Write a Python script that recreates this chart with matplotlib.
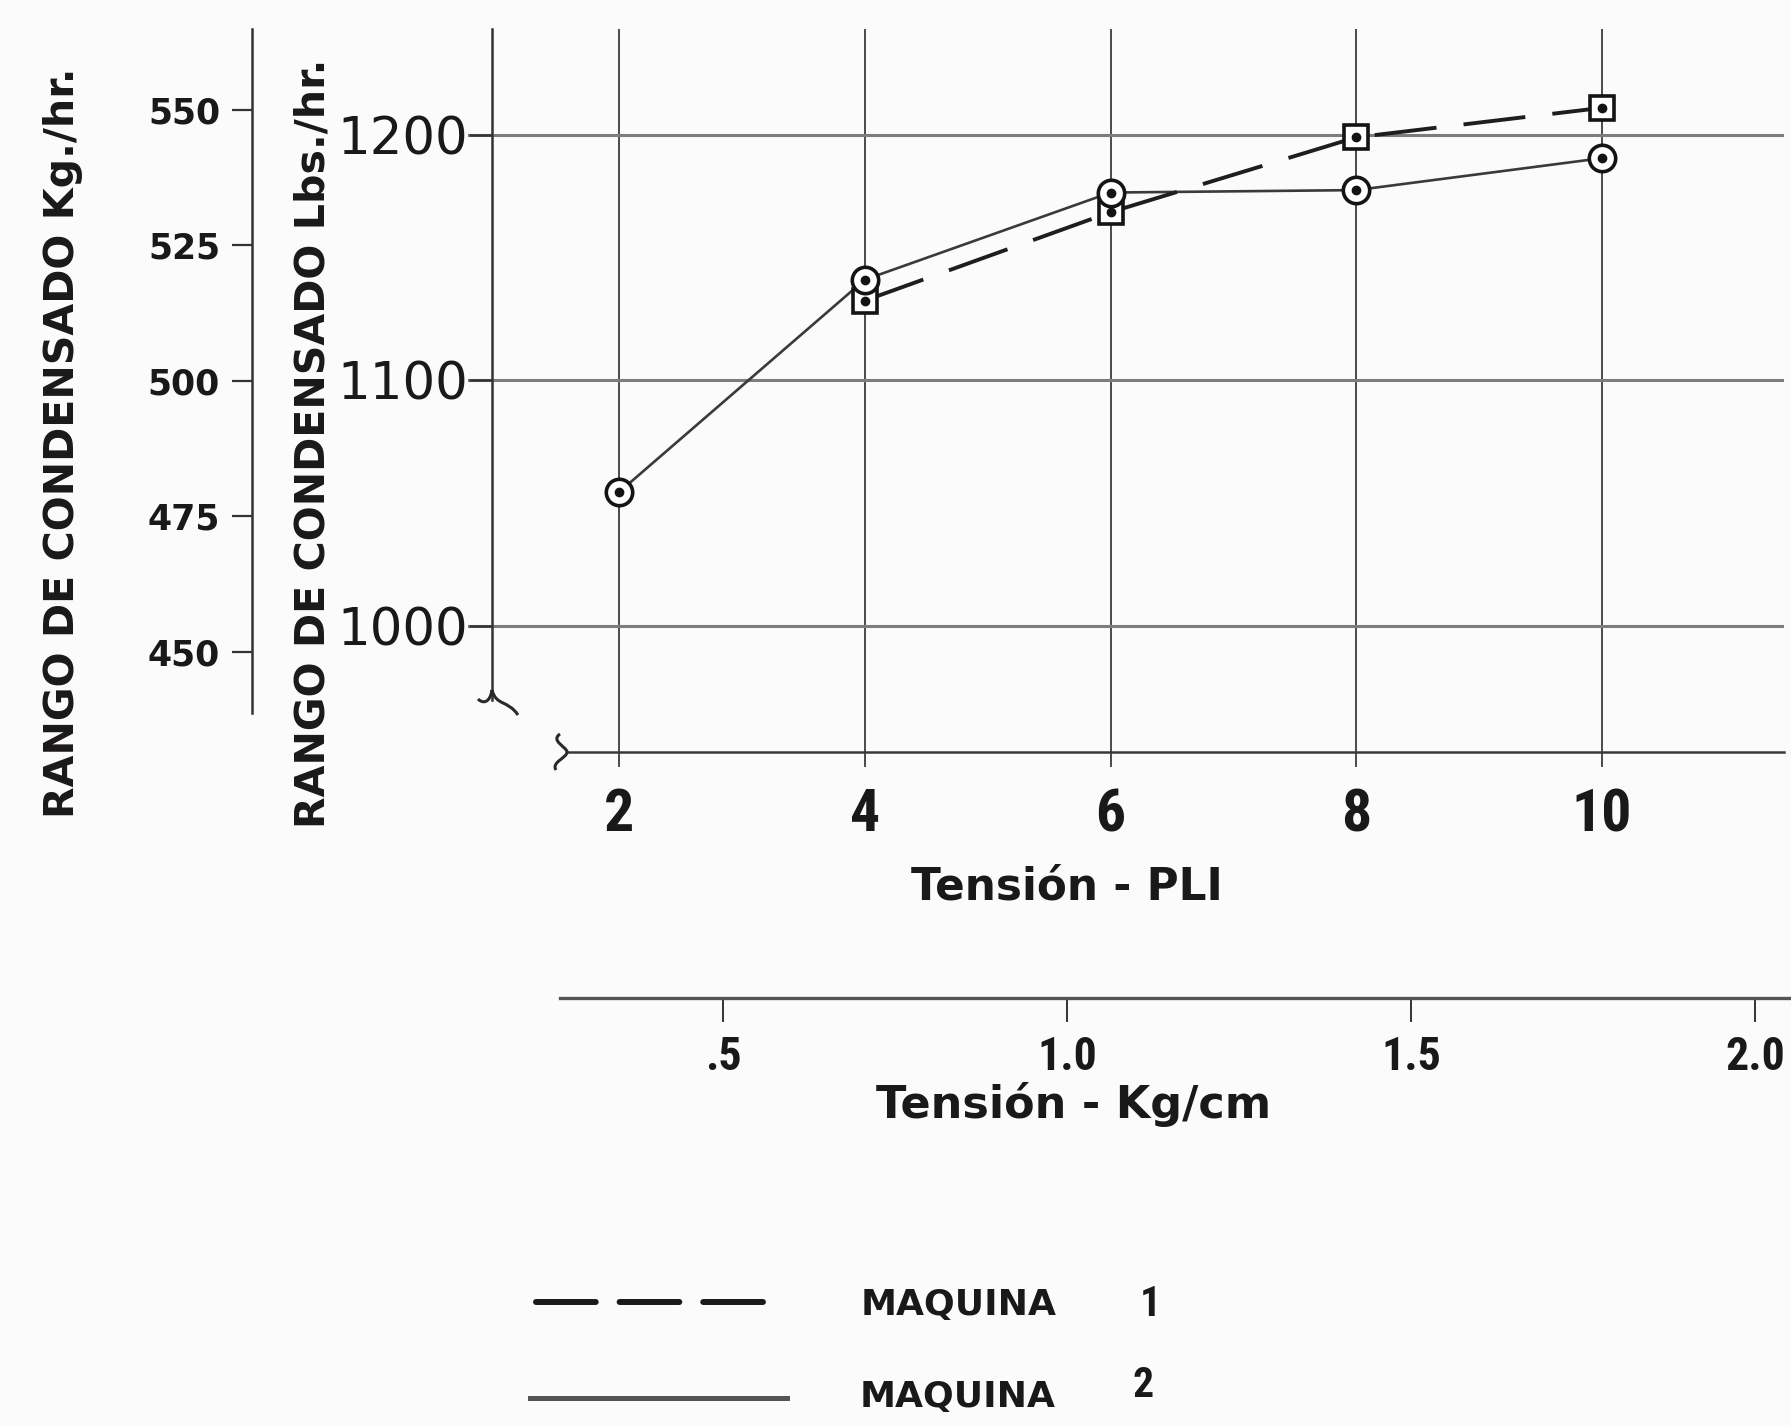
import matplotlib
matplotlib.use("Agg")
import matplotlib.pyplot as plt
from matplotlib.lines import Line2D
from matplotlib.path import Path
from matplotlib.patches import PathPatch
from matplotlib import font_manager

# ---- data -----------------------------------------------------------------
tension_pli = [2, 4, 6, 8, 10]
maquina2_lbs = [1054.5, 1141.0, 1176.5, 1177.5, 1190.5]

tension_pli_m1 = [4, 6, 8, 10]
maquina1_lbs = [1132.5, 1168.5, 1199.0, 1211.0]

lbs_ticks = [1000, 1100, 1200]
kg_ticks = [450, 475, 500, 525, 550]
pli_ticks = [2, 4, 6, 8, 10]
kgcm_ticks = [0.5, 1.0, 1.5, 2.0]
kgcm_labels = [".5", "1.0", "1.5", "2.0"]

PLI_TO_KGCM = 0.4536 / 2.54   # lb/in -> kg/cm

# ---- figure / layout helpers ----------------------------------------------
W, H, DPI = 1791, 1425, 100
fig = plt.figure(figsize=(W / DPI, H / DPI), dpi=DPI, facecolor="#fbfbfb")


def pick_narrow():
    fonts = font_manager.fontManager.ttflist
    for wanted in ("Liberation Sans Narrow", "Roboto Condensed", "Open Sans Condensed"):
        if any(f.name == wanted for f in fonts):
            return {"family": wanted}, True
    for f in fonts:
        if f.name == "DejaVu Sans" and str(f.stretch) in ("condensed", "semi-condensed"):
            return {"family": "DejaVu Sans", "stretch": "condensed"}, True
    return {"family": "DejaVu Sans"}, False


NARROW, HAS_NARROW = pick_narrow()
BOLD = "DejaVu Sans"
INK = "#1b1818"


def rect(left, top, right, bottom):
    return [left / W, 1 - bottom / H, (right - left) / W, (bottom - top) / H]


def fx(x):
    return x / W


def fy(y):
    return 1 - y / H


def narrow_style(label, size, weight="normal"):
    label.set_fontfamily(NARROW["family"])
    if "stretch" in NARROW:
        label.set_fontstretch(NARROW["stretch"])
    label.set_fontsize(size)
    label.set_fontweight(weight)


# ---- main plot: condensate rate (lbs/hr) vs tension (PLI) ------------------
ax = fig.add_axes(rect(468, 29, 1784, 752))
ax.patch.set_visible(False)
ax.set_xlim(0.7711, 11.481)
ax.set_ylim(948.7, 1243.1)
for s in ("top", "right"):
    ax.spines[s].set_visible(False)

ax.set_xticks(pli_ticks)
ax.set_xticklabels([str(t) for t in pli_ticks])
ax.set_yticks(lbs_ticks)
ax.set_yticklabels([str(t) for t in lbs_ticks])
ax.set_axisbelow(True)
ax.xaxis.grid(True, color="#3c3c3c", lw=1.3)
ax.yaxis.grid(True, color="#7d7d7d", lw=2.2)

ax.spines["bottom"].set_color("#3a3a3a")
ax.spines["bottom"].set_linewidth(1.8)
ax.spines["bottom"].set_bounds(1.577, 11.481)
ax.tick_params(axis="x", direction="out", length=10.8, width=1.3, color="#3c3c3c",
               pad=14.4, labelcolor=INK)
for lab in ax.get_xticklabels():
    narrow_style(lab, 43 if HAS_NARROW else 38, "bold")

ax.spines["left"].set_position(("data", 0.966))
ax.spines["left"].set_bounds(969.9, 1243.1)
ax.spines["left"].set_color("#333333")
ax.spines["left"].set_linewidth(1.8)
ax.tick_params(axis="y", direction="out", length=16.5, width=1.8, color="#333333",
               pad=0.5, labelsize=37, labelcolor=INK)
for lab in ax.get_yticklabels():
    lab.set_fontfamily("DejaVu Sans")

# Maquina 2: solid line with ringed dots
ax.plot(tension_pli, maquina2_lbs, color="#3a3a3a", lw=1.9, zorder=3)
ax.plot(tension_pli, maquina2_lbs, ls="none", marker="o", ms=19, mfc="white",
        mec="#141414", mew=2.6, zorder=6)
ax.plot(tension_pli, maquina2_lbs, ls="none", marker="o", ms=6, color="#141414", zorder=7)

# Maquina 1: dashed line with boxed dots
ax.plot(tension_pli_m1, maquina1_lbs, color="#1e1e1e", lw=2.8, ls=(0, (16, 7)), zorder=3)
ax.plot(tension_pli_m1, maquina1_lbs, ls="none", marker="s", ms=17, mfc="white",
        mec="#141414", mew=2.6, zorder=4)
ax.plot(tension_pli_m1, maquina1_lbs, ls="none", marker="o", ms=6, color="#141414", zorder=5)

# ---- kg/hr scale on the far left --------------------------------------------
axk = fig.add_axes(rect(252, 29, 253, 752))
axk.patch.set_visible(False)
axk.set_ylim(431.55, 564.94)
for s in ("top", "right", "bottom"):
    axk.spines[s].set_visible(False)
axk.spines["left"].set_bounds(438.7, 564.94)
axk.spines["left"].set_color("#333333")
axk.spines["left"].set_linewidth(1.8)
axk.set_xticks([])
axk.set_yticks(kg_ticks)
axk.set_yticklabels([str(t) for t in kg_ticks])
axk.tick_params(axis="y", direction="out", length=14.4, width=1.6, color="#333333",
                pad=8.6, labelsize=25, labelcolor=INK)
for lab in axk.get_yticklabels():
    lab.set_fontweight("bold")

# ---- kg/cm tension scale below ------------------------------------------------
ax2 = fig.add_axes(rect(474, 997, 1790, 998))
ax2.patch.set_visible(False)
ax2.set_xlim(0.7711 * PLI_TO_KGCM, 11.481 * PLI_TO_KGCM)
for s in ("top", "right", "left"):
    ax2.spines[s].set_visible(False)
ax2.spines["bottom"].set_bounds(0.2627, 11.481 * PLI_TO_KGCM)
ax2.spines["bottom"].set_color("#555555")
ax2.spines["bottom"].set_linewidth(2.4)
ax2.set_yticks([])
ax2.set_xticks(kgcm_ticks)
ax2.set_xticklabels(kgcm_labels)
ax2.tick_params(axis="x", direction="out", length=17.3, width=1.4, color="#333333",
                pad=9.0, labelcolor=INK)
for lab in ax2.get_xticklabels():
    narrow_style(lab, 33 if HAS_NARROW else 26, "bold")

# ---- axis titles --------------------------------------------------------------
fig.text(fx(63), fy(443), "RANGO DE CONDENSADO Kg./hr.", rotation=90, ha="center",
         va="center", fontsize=29.6, fontweight="bold", color=INK, family=BOLD)
fig.text(fx(313), fy(443), "RANGO DE CONDENSADO Lbs./hr.", rotation=90, ha="center",
         va="center", fontsize=29.6, fontweight="bold", color=INK, family=BOLD)
fig.text(fx(1067), fy(900), "Tensión - PLI", ha="center", va="baseline",
         fontsize=31.5, fontweight="bold", color=INK, family=BOLD)
fig.text(fx(1074), fy(1118), "Tensión - Kg/cm", ha="center", va="baseline",
         fontsize=32, fontweight="bold", color=INK, family=BOLD)

# ---- axis break marks ------------------------------------------------------------
def squiggle(segments, lw=2.2):
    verts, codes = [], []
    for seg in segments:
        verts.append((fx(seg[0][0]), fy(seg[0][1])))
        codes.append(Path.MOVETO)
        for p in seg[1:]:
            verts.append((fx(p[0]), fy(p[1])))
            codes.append(Path.CURVE4)
    fig.add_artist(PathPatch(Path(verts, codes), transform=fig.transFigure,
                             fill=False, lw=lw, edgecolor="#2a2a2a"))


squiggle([[(492, 690), (490, 703), (483, 704), (478, 699)],
          [(492, 690), (496, 706), (508, 700), (518, 715)]])
squiggle([[(560, 734), (550, 741), (567, 747), (567, 752),
           (567, 758), (551, 762), (556, 770)]])

# ---- legend ----------------------------------------------------------------------
fig.add_artist(Line2D([fx(536), fx(781)], [fy(1302), fy(1302)], transform=fig.transFigure,
                      color="#1a1a1a", lw=4.3, ls=(0, (10, 4)), solid_capstyle="round",
                      dash_capstyle="round"))
fig.add_artist(Line2D([fx(530), fx(787)], [fy(1398), fy(1398)], transform=fig.transFigure,
                      color="#555555", lw=3.6))
fig.text(fx(861), fy(1315), "MAQUINA", ha="left", va="baseline", fontsize=26,
         fontweight="bold", color=INK, family=BOLD)
fig.text(fx(1150), fy(1316), "1", ha="center", va="baseline", fontsize=30,
         fontweight="bold", color=INK, family=NARROW["family"])
fig.text(fx(860), fy(1407), "MAQUINA", ha="left", va="baseline", fontsize=26,
         fontweight="bold", color=INK, family=BOLD)
fig.text(fx(1143), fy(1397), "2", ha="center", va="baseline", fontsize=30,
         fontweight="bold", color=INK, family=NARROW["family"])

fig.savefig("out.png", dpi=DPI, facecolor=fig.get_facecolor())
